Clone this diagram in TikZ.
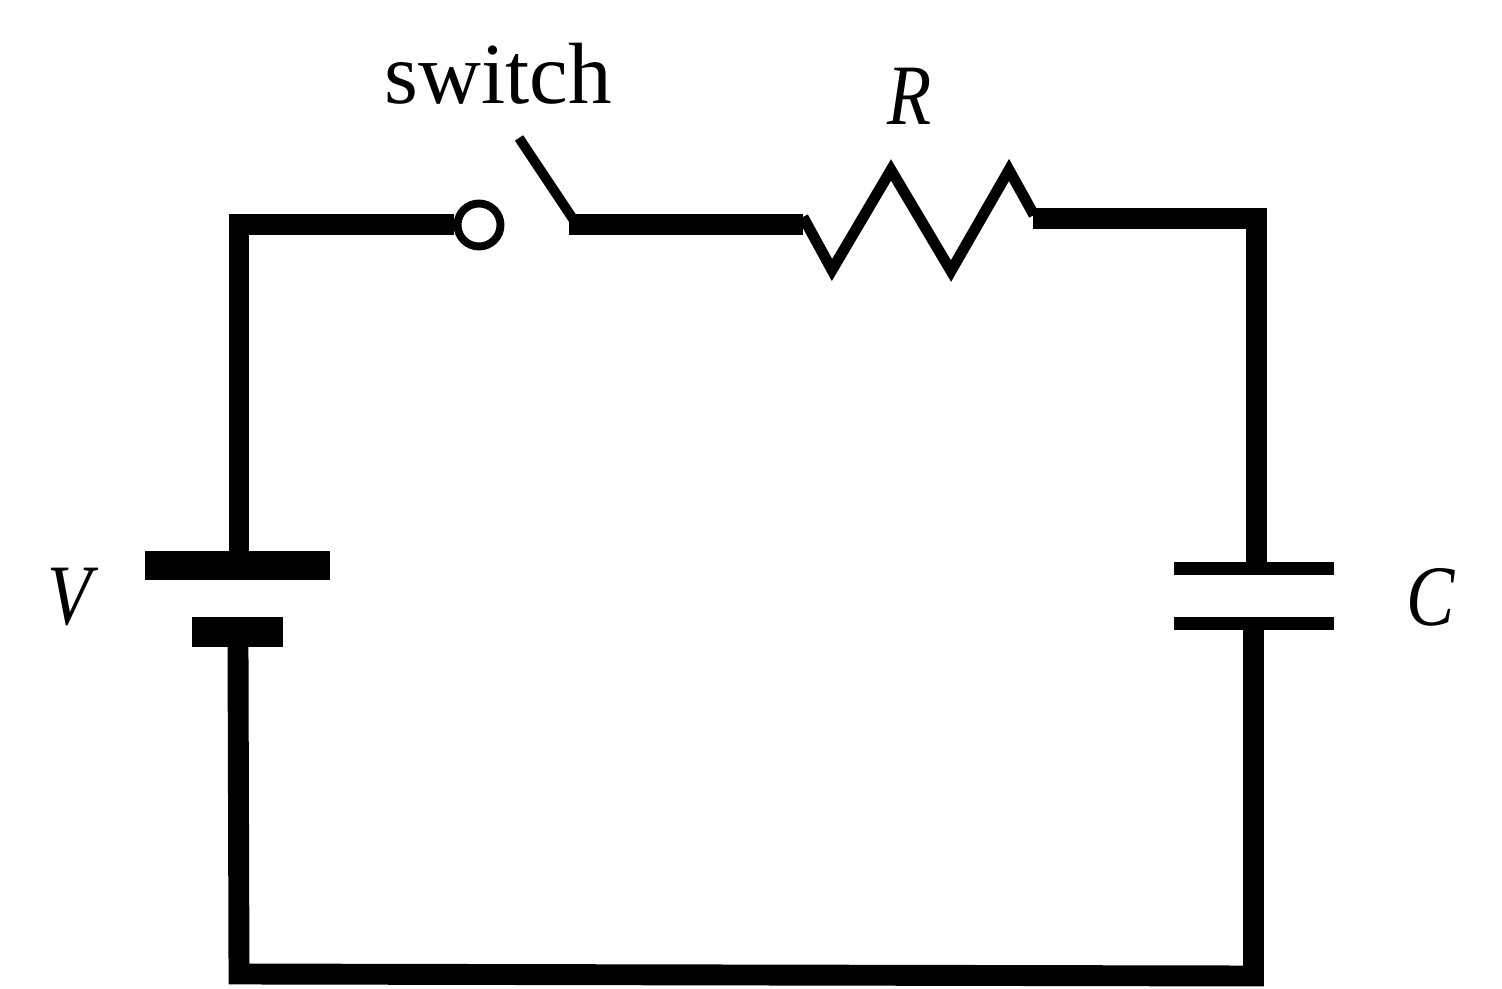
\documentclass[tikz,border=0pt]{standalone}
\usepackage{fontspec}
\setmainfont{Liberation Serif}[ItalicFeatures={FakeStretch=0.84}]
\usetikzlibrary{positioning}
\tikzset{
    wire/.style={line width=11.9pt, line join=miter},
    thinwire/.style={line width=#1, line join=miter},
    plate/.style={line width=#1, line cap=butt},
    terminal/.style={circle, draw, line width=4.5pt, fill=white, inner sep=0pt, minimum size=0.86cm},
    compname/.style={font=\fontsize{49}{58}\selectfont\itshape, inner sep=0pt},
}
\begin{document}
\begin{tikzpicture}[x=0.02cm, y=-0.02cm]  % One unit is one pixel of the reference
    \useasboundingbox (0,0) rectangle (1502,989);  % Fixes the margins

    % Corners and ends of the wires
    \coordinate (topleft) at (239,224.5);
    \coordinate (topright) at (1256.5,218.5);
    \coordinate (botleft) at (239,974);
    \coordinate (botright) at (1253.5,976);
    \coordinate (battup) at (239,553);
    \coordinate (battdown) at (238,645);
    \coordinate (capup) at (1256.5,564);
    \coordinate (capdown) at (1253.5,625);
    \coordinate (bladeend) at (575,222);
    \coordinate (bladetip) at (519,138);
    \coordinate (wirestart) at (569,224.5);
    \coordinate (wireend) at (803,224.5);
    \coordinate (resleft) at (803,217);
    \coordinate (resright) at (1034,215);
    \coordinate (wireback) at (1033,218.5);

    \node[terminal] (contact) at (479,225) {};  % Switch contact

    % Battery and capacitor plates
    \draw[plate=16.6pt] (145,565.5) -- (330,565.5);
    \draw[plate=17pt] (192,632) -- (283,632);
    \draw[plate=7.4pt] (1174,568.5) -- (1334,568.5);
    \draw[plate=7.4pt] (1174,623.5) -- (1334,623.5);

    % Wires
    \draw[wire] (battup) -- (topleft) -- (contact.west |- topleft);
    \draw[wire] (wireback) -- (topright) -- (capup);
    \draw[wire] (battdown) -- (botleft) -- (botright) -- (capdown);
    \draw[wire] (wirestart) -- (wireend);

    % Switch blade and resistor
    \draw[thinwire=5.6pt] (bladetip) -- (bladeend);
    \draw[thinwire=6.2pt] (resleft) -- (832,270) -- (891,170) -- (951,271) -- (1009,170) -- (resright);

    % Labels
    \node[font=\fontsize{49.5}{58}\selectfont, inner sep=0pt] (switchlabel) at (498,74) {switch};
    \node[compname] (rlabel) at (910,96) {R};
    \node[compname] (vlabel) at (70,597) {V};
    \node[compname] (clabel) at (1431,597) {C};
\end{tikzpicture}
\end{document}
